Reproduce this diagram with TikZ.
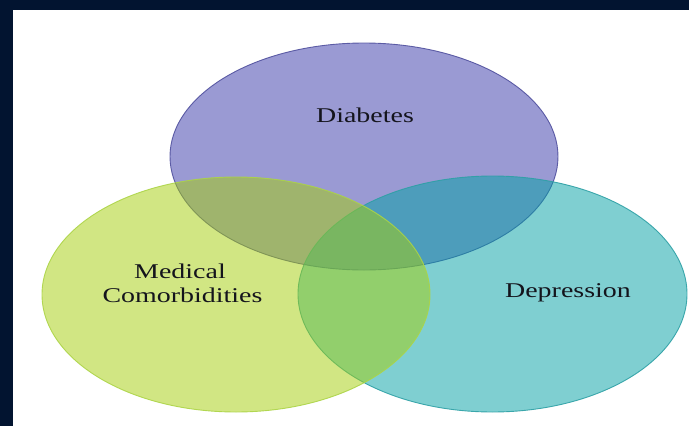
\documentclass[tikz,border=0pt]{standalone}
\usepackage{fontspec}
\setmainfont{Liberation Serif}
\usetikzlibrary{shapes.geometric}

\definecolor{navy}{RGB}{2,20,48}
\definecolor{diabfill}{RGB}{55,55,169}
\definecolor{diabline}{RGB}{80,80,158}
\definecolor{deprfill}{RGB}{1,161,165}
\definecolor{deprline}{RGB}{45,160,165}
\definecolor{medfill}{RGB}{165,207,9}
\definecolor{medline}{RGB}{172,212,70}
\definecolor{labelink}{RGB}{20,20,28}

\tikzset{
  setbubble/.style={ellipse, inner sep=0pt, line width=0.9pt, fill opacity=0.5, draw opacity=0.9},
  setlabel/.style={anchor=base, inner sep=0pt, text=labelink, font=\fontsize{21}{23}\selectfont},
}
\newcommand{\wide}[1]{\scalebox{1.33}[1]{#1}}

\begin{document}
\begin{tikzpicture}[x=1pt, y=-1pt]
  % frame and white canvas
  \fill[navy] (0,0) rectangle (689,426);
  \fill[white] (13,10) rectangle (689,426);
  \useasboundingbox (0,0) rectangle (689,426);

  % the three overlapping sets
  \node[setbubble, draw=diabline, fill=diabfill, minimum width=388pt, minimum height=227pt] (diab) at (364,156.5) {};
  \node[setbubble, draw=deprline, fill=deprfill, minimum width=389pt, minimum height=236pt] (depr) at (492.5,294) {};
  \node[setbubble, draw=medline, fill=medfill, minimum width=388pt, minimum height=235pt] (medc) at (236,294.5) {};

  % labels
  \node[setlabel] (diablabel) at (365,122.3) {\wide{Diabetes}};
  \node[setlabel] (medlabelA) at (180,278.7) {\wide{Medical}};
  \node[setlabel] (medlabelB) at (182.5,302) {\wide{Comorbidities}};
  \node[setlabel] (deprlabel) at (568,297.7) {\wide{Depression}};
\end{tikzpicture}
\end{document}
